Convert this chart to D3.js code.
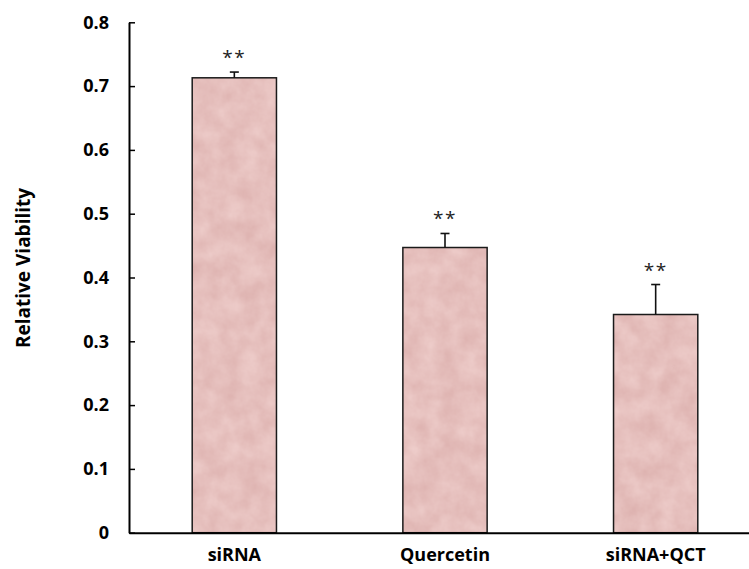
<!DOCTYPE html>
<html>
<head>
<meta charset="utf-8">
<script src="https://cdn.jsdelivr.net/npm/d3@7"></script>
<style>
  body { margin: 0; background: #fff; }
  svg { display: block; }
</style>
</head>
<body>
<script>
// data
var groups = ["siRNA", "Quercetin", "siRNA+QCT"];
var viability = [0.713, 0.447, 0.342];
var errors = [0.009, 0.022, 0.047];
var marks = ["**", "**", "**"];
var yTicks = [0, 0.1, 0.2, 0.3, 0.4, 0.5, 0.6, 0.7, 0.8];

var w = 749;
var h = 569;

var svg = d3.select("body")
  .append("svg")
  .attr("width", w)
  .attr("height", h);

// pink marbled fill like the excel texture
var defs = svg.append("defs");
var f = defs.append("filter")
  .attr("id", "marble")
  .attr("color-interpolation-filters", "sRGB")
  .attr("x", 0).attr("y", 0).attr("width", 1).attr("height", 1);
f.append("feTurbulence")
  .attr("type", "fractalNoise")
  .attr("baseFrequency", 0.05)
  .attr("numOctaves", 4)
  .attr("seed", 3)
  .attr("result", "noise");
f.append("feColorMatrix")
  .attr("in", "noise")
  .attr("type", "matrix")
  .attr("values", "0.08 0 0 0 0.86  0.13 0 0 0 0.685  0.13 0 0 0 0.675  0 0 0 0 1")
  .attr("result", "tint");
f.append("feComposite")
  .attr("in", "tint")
  .attr("in2", "SourceGraphic")
  .attr("operator", "in");

var xScale = d3.scaleBand()
  .domain(groups)
  .range([129, 761])
  .paddingInner(0.6)
  .paddingOuter(0.3);

var yScale = d3.scaleLinear()
  .domain([0, 0.8])
  .range([532.7, 22.3]);

//막대
svg.selectAll("rect.fill")
  .data(viability)
  .enter()
  .append("rect")
  .attr("class", "fill")
  .attr("x", function(d, i) { return xScale(groups[i]); })
  .attr("y", function(d) { return yScale(d); })
  .attr("width", xScale.bandwidth())
  .attr("height", function(d) { return yScale(0) - yScale(d); })
  .attr("fill", "#e6bebe")
  .attr("filter", "url(#marble)");

svg.selectAll("rect.edge")
  .data(viability)
  .enter()
  .append("rect")
  .attr("class", "edge")
  .attr("x", function(d, i) { return xScale(groups[i]); })
  .attr("y", function(d) { return yScale(d); })
  .attr("width", xScale.bandwidth())
  .attr("height", function(d) { return yScale(0) - yScale(d); })
  .attr("fill", "none")
  .attr("stroke", "#1a1a1a")
  .attr("stroke-width", 1.5);

// error bars (upper only)
var err = svg.selectAll("g.err")
  .data(viability)
  .enter()
  .append("g")
  .attr("class", "err")
  .attr("stroke", "#111")
  .attr("stroke-width", 1.6);

err.append("line")
  .attr("x1", function(d, i) { return xScale(groups[i]) + xScale.bandwidth() / 2; })
  .attr("x2", function(d, i) { return xScale(groups[i]) + xScale.bandwidth() / 2; })
  .attr("y1", function(d) { return yScale(d); })
  .attr("y2", function(d, i) { return yScale(d + errors[i]); });

err.append("line")
  .attr("x1", function(d, i) { return xScale(groups[i]) + xScale.bandwidth() / 2 - 4.5; })
  .attr("x2", function(d, i) { return xScale(groups[i]) + xScale.bandwidth() / 2 + 4.5; })
  .attr("y1", function(d, i) { return yScale(d + errors[i]); })
  .attr("y2", function(d, i) { return yScale(d + errors[i]); });

// significance stars
svg.selectAll("text.sig")
  .data(viability)
  .enter()
  .append("text")
  .attr("class", "sig")
  .attr("x", function(d, i) { return xScale(groups[i]) + xScale.bandwidth() / 2; })
  .attr("y", function(d, i) { return yScale(d + errors[i]) - 8; })
  .attr("text-anchor", "middle")
  .attr("font-family", "'Open Sans', sans-serif")
  .attr("font-size", 19)
  .attr("letter-spacing", 1.5)
  .attr("fill", "#222")
  .text(function(d, i) { return marks[i]; });

//y축
var yAxis = d3.axisLeft(yScale)
  .tickValues(yTicks)
  .tickFormat(function(d) { return d === 0 ? "0" : d3.format(".1f")(d); })
  .tickSizeInner(-6)
  .tickSizeOuter(0)
  .tickPadding(20);

var gy = svg.append("g")
  .attr("transform", "translate(129,0)")
  .call(yAxis);
gy.select(".domain").attr("stroke", "#000").attr("stroke-width", 2);
gy.selectAll(".tick line").attr("stroke", "#000").attr("stroke-width", 1.5);
gy.selectAll(".tick text")
  .attr("font-family", "'Open Sans', sans-serif")
  .attr("font-weight", "bold")
  .attr("font-size", 18)
  .attr("fill", "#000");

//x축
var xAxis = d3.axisBottom(xScale).tickSize(0).tickPadding(16);
var gx = svg.append("g")
  .attr("transform", "translate(0," + yScale(0) + ")")
  .call(xAxis);
gx.select(".domain").attr("stroke", "#000").attr("stroke-width", 2);
gx.selectAll(".tick text")
  .attr("font-family", "'Open Sans', sans-serif")
  .attr("font-weight", "bold")
  .attr("font-size", 18)
  .attr("fill", "#000");

// y title
svg.append("text")
  .attr("transform", "translate(30,268) rotate(-90)")
  .attr("text-anchor", "middle")
  .attr("font-family", "'Open Sans', sans-serif")
  .attr("font-weight", "bold")
  .attr("font-size", 19)
  .attr("fill", "#000")
  .text("Relative Viability");
</script>
</body>
</html>
